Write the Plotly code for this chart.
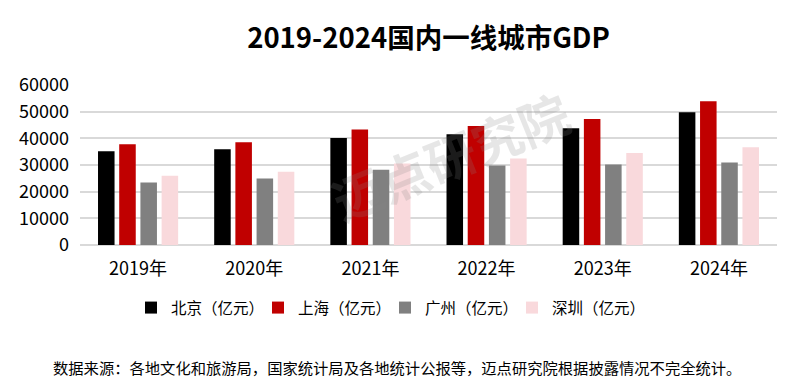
import plotly.graph_objects as go

years = ["2019年", "2020年", "2021年", "2022年", "2023年", "2024年"]
beijing = [35170, 35920, 40150, 41530, 43770, 49760]
shanghai = [37790, 38530, 43270, 44640, 47260, 53870]
guangzhou = [23440, 24940, 28180, 29800, 30180, 30930]
shenzhen = [25940, 27430, 30600, 32420, 34540, 36660]

series_names = ["北京（亿元）", "上海（亿元）", "广州（亿元）", "深圳（亿元）"]
series_values = [beijing, shanghai, guangzhou, shenzhen]
colors = ["#000000", "#c00000", "#808080", "#f9d9dc"]

title_text = "2019-2024国内一线城市GDP"
source_text = "数据来源：各地文化和旅游局，国家统计局及各地统计公报等，迈点研究院根据披露情况不完全统计。"

FONT = "Noto Sans CJK SC"

fig = go.Figure()
for name, vals, col in zip(series_names, series_values, colors):
    fig.add_trace(go.Bar(
        x=years, y=vals, name=name,
        marker=dict(color=col, line=dict(width=0)),
    ))

fig.update_layout(
    width=800, height=382,
    paper_bgcolor="white", plot_bgcolor="white",
    barmode="group", bargap=0.27, bargroupgap=0.22,
    margin=dict(l=80, r=23, t=85, b=137),
    font=dict(family=FONT, color="#000000"),
    title=dict(text=title_text, x=0.5, xref="paper", xanchor="center",
               y=1 - 38 / 382, yanchor="middle",
               font=dict(family=FONT, size=27.5, color="#000000", weight="bold")),
    showlegend=True,
    legend=dict(orientation="h", xref="container", yref="container",
                x=0.5 - 15 / 800, xanchor="center", y=1 - 308 / 382, yanchor="middle",
                font=dict(family=FONT, size=15.5, color="#000000"),
                itemwidth=30, traceorder="normal", entrywidth=82),
    xaxis=dict(showgrid=False, showline=False, ticks="",
               tickfont=dict(family=FONT, size=18, color="#000000"),
               ticklabelstandoff=11),
    yaxis=dict(range=[0, 60000], dtick=10000, tickformat="d",
               showgrid=True, gridcolor="#d9d9d9", gridwidth=1.5,
               zeroline=True, zerolinecolor="#d9d9d9", zerolinewidth=1.5,
               showline=False, ticks="",
               tickfont=dict(family=FONT, size=18, color="#000000"),
               ticklabelstandoff=10),
    annotations=[
        dict(text=source_text, xref="paper", yref="paper",
             x=(397 - 80) / 697, y=-(367 - 245) / 160,
             xanchor="center", yanchor="middle", showarrow=False,
             font=dict(family=FONT, size=15.3, color="#000000")),
        dict(text="迈点研究院", xref="paper", yref="paper",
             x=(450 - 80) / 697, y=(245 - 155) / 160,
             xanchor="center", yanchor="middle", showarrow=False,
             textangle=-22, opacity=0.2,
             font=dict(family=FONT, size=50, color="#888888", weight="bold")),
    ],
)

fig.write_html("out.html", config={"displayModeBar": False},
               post_script="document.body.style.margin='0';document.body.style.overflow='hidden';")
